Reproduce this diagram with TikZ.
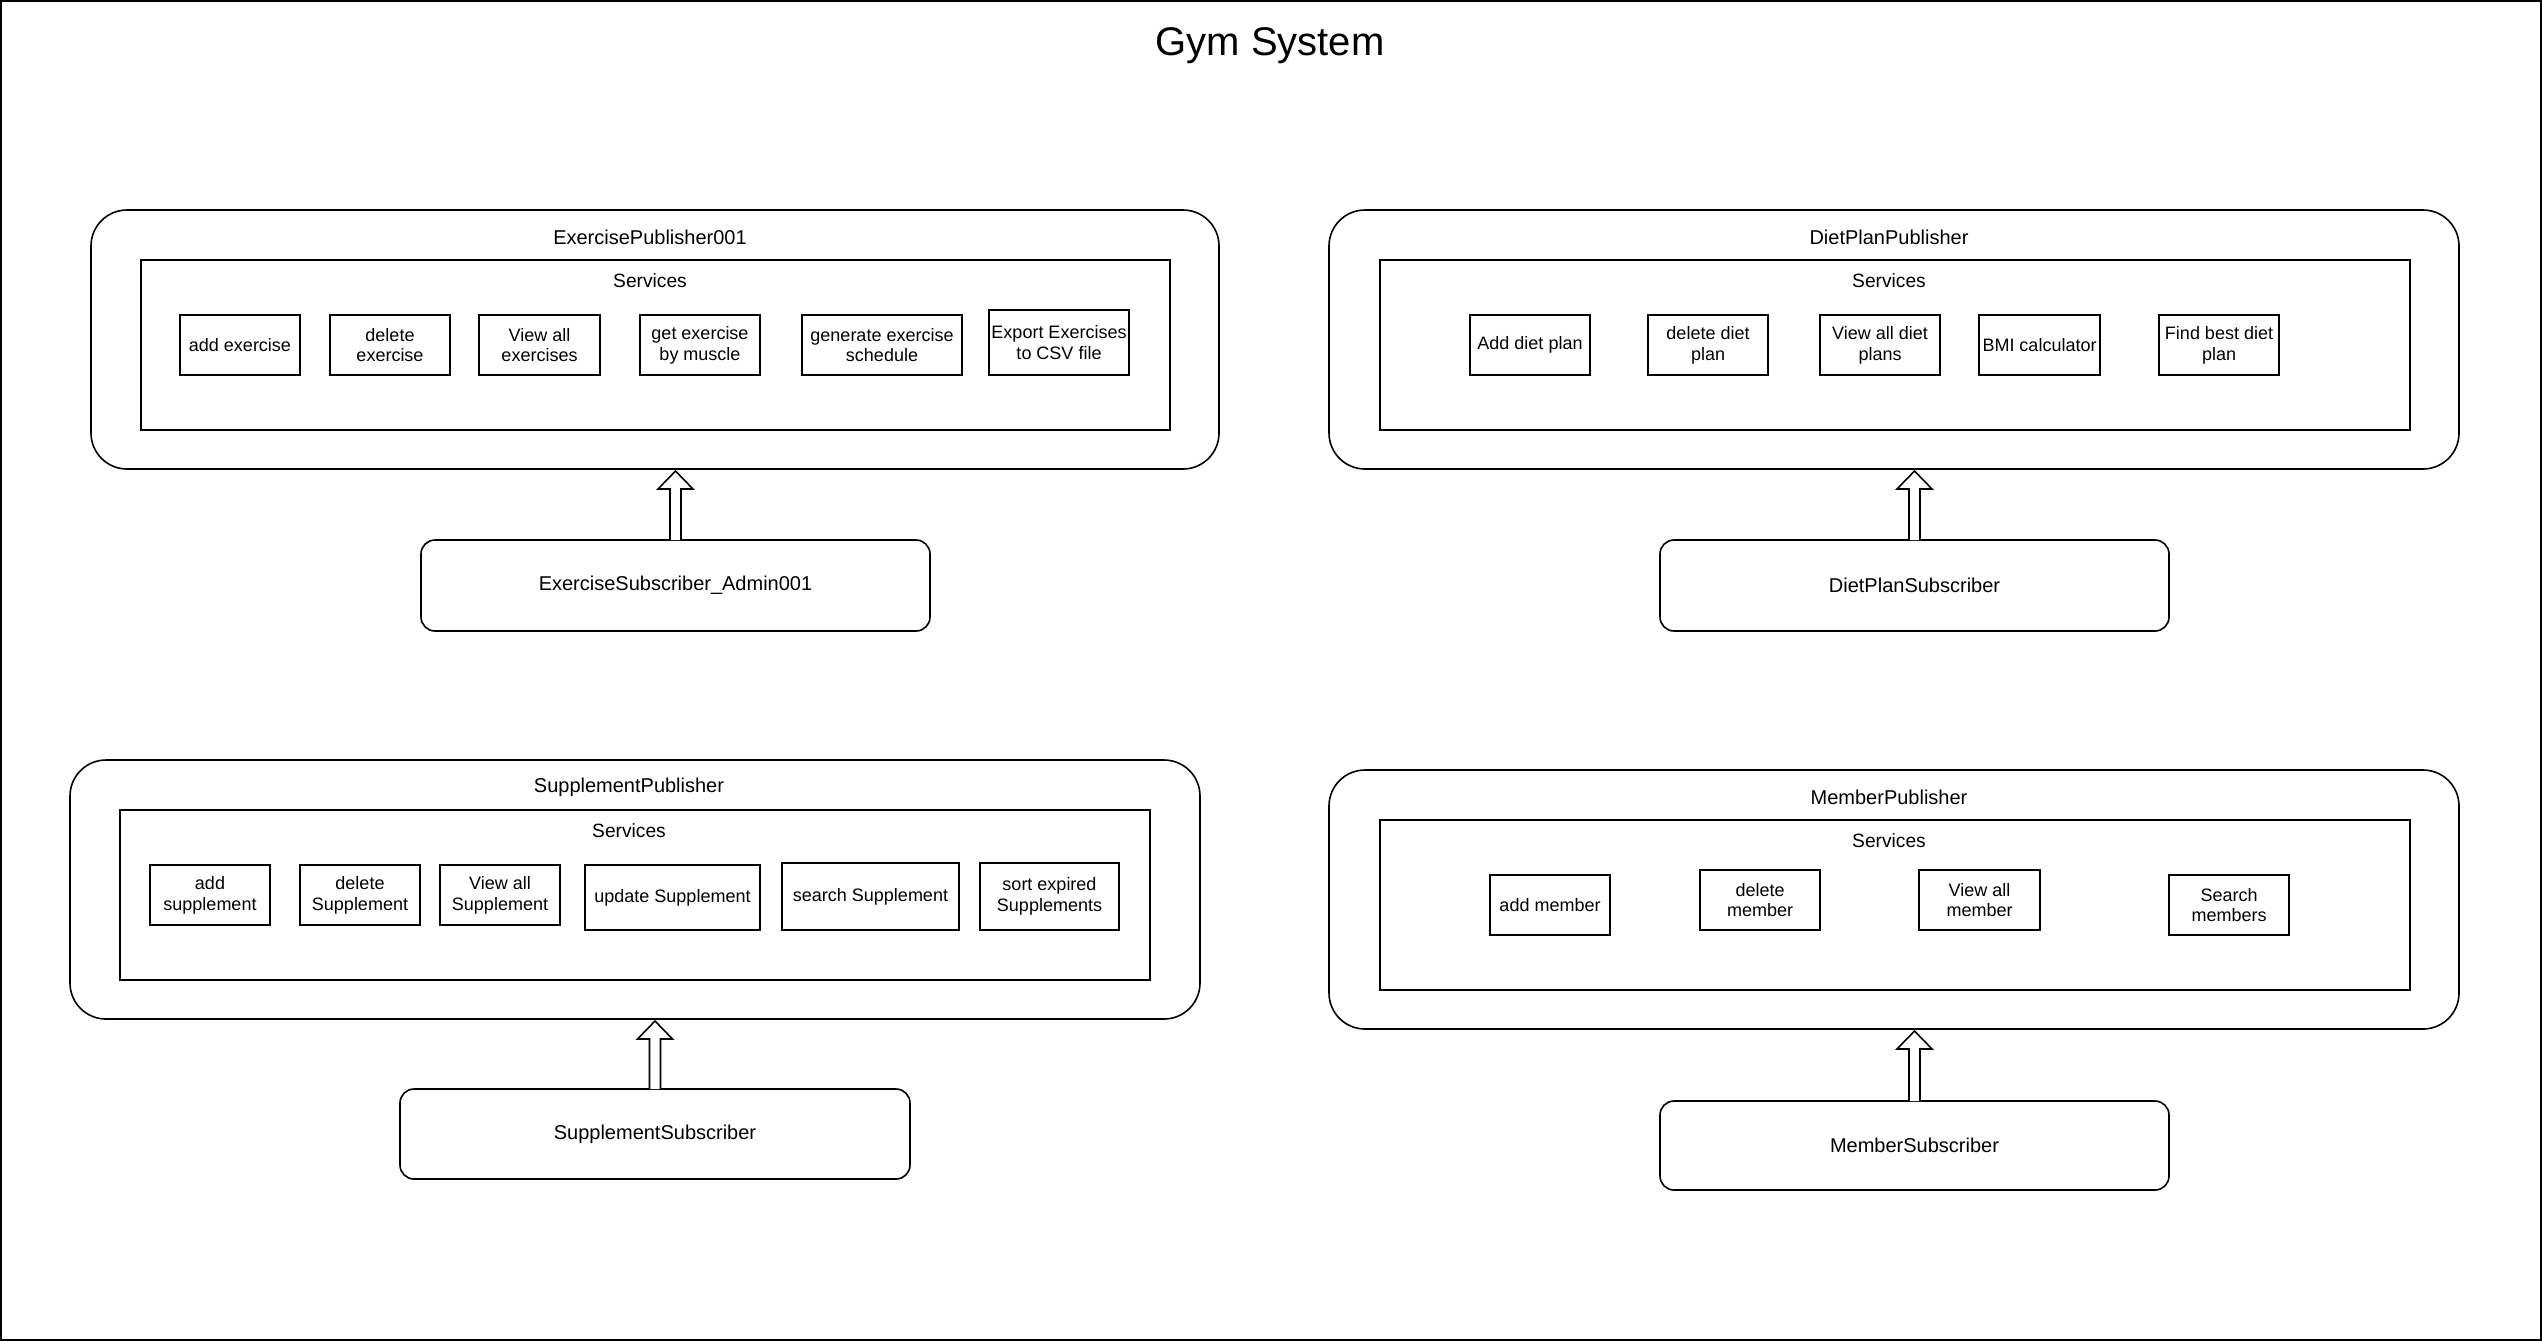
\documentclass[tikz,border=0pt]{standalone}
\usepackage{fontspec}
\setmainfont{Liberation Sans}
\usetikzlibrary{calc}
\tikzset{
 pub/.style={draw, line width=0.8pt, rounded corners=18pt, outer sep=0pt, inner sep=0pt},
 innerbox/.style={draw, line width=0.8pt, outer sep=0pt, inner sep=0pt},
 svc/.style={draw, line width=0.8pt, outer sep=0pt, inner sep=0pt, align=center, font=\fontsize{9}{10.4}\selectfont},
 subbox/.style={draw, line width=0.8pt, rounded corners=7pt, outer sep=0pt, inner sep=0pt, font=\fontsize{10}{12}\selectfont},
 lbl/.style={inner sep=0pt, font=\fontsize{9.6}{11}\selectfont},
 pubtitle/.style={inner sep=0pt, font=\fontsize{10}{12}\selectfont},
 blk/.style={draw, line width=0.8pt, fill=white, line join=miter},
}
\newcommand\bx[7][svc]{\node[#1, minimum width={(#5-#3)*0.5pt}, minimum height={(#6-#4)*0.5pt}] (#2) at ({(#3+#5)/2},{(#4+#6)/2}) {#7};}
\newcommand\harrow[2]{%
 \coordinate (#2tip) at (#2.north |- #1.south);
 \draw[blk] ($(#2.north)+(-5.5,0)$) -- ($(#2tip)+(-5.5,20)$) -- ($(#2tip)+(-17.5,20)$) -- ($(#2tip)+(0,2)$) -- ($(#2tip)+(17.5,20)$) -- ($(#2tip)+(5.5,20)$) -- ($(#2.north)+(5.5,0)$);
}
\begin{document}
\begin{tikzpicture}[x=0.5pt,y=-0.5pt]
\useasboundingbox (0,0) rectangle (2542,1341);
\draw[line width=1pt] (1.2,1.2) rectangle (2540.8,1339.8);
\node[inner sep=0pt, font=\fontsize{20}{24}\selectfont] (title) at (1270,46) {Gym System};

% Exercise publisher
\bx[pub]{ep}{91}{210}{1219}{469}{}
\node[pubtitle] (eptitle) at (650,237) {ExercisePublisher001};
\bx[innerbox]{epin}{141}{260}{1170}{430}{}
\node[lbl] (epserv) at (650,281) {Services};
\bx{e1}{180}{315}{300}{375}{add exercise}
\bx{e2}{330}{315}{450}{375}{delete\\exercise}
\bx{e3}{479}{315}{600}{375}{View all\\exercises}
\bx{e4}{640}{315}{760}{375}{get exercise\\by muscle}
\bx{e5}{802}{315}{962}{375}{generate exercise\\schedule}
\bx{e6}{989}{310}{1129}{375}{Export Exercises\\to CSV file}
\bx[subbox]{es}{421}{540}{930}{631}{ExerciseSubscriber\_Admin001}
\harrow{ep}{es}

% Diet plan publisher
\bx[pub]{dp}{1329}{210}{2459}{469}{}
\node[pubtitle] (dptitle) at (1889,237) {DietPlanPublisher};
\bx[innerbox]{dpin}{1380}{260}{2410}{430}{}
\node[lbl] (dpserv) at (1889,281) {Services};
\bx{d1}{1470}{315}{1590}{375}{Add diet plan}
\bx{d2}{1648}{315}{1768}{375}{delete diet\\plan}
\bx{d3}{1820}{315}{1940}{375}{View all diet\\plans}
\bx{d4}{1979}{315}{2100}{375}{BMI calculator}
\bx{d5}{2159}{315}{2279}{375}{Find best diet\\plan}
\bx[subbox]{ds}{1660}{540}{2169}{631}{DietPlanSubscriber}
\harrow{dp}{ds}

% Supplement publisher
\bx[pub]{sp}{70}{760}{1200}{1019}{}
\node[pubtitle] (sptitle) at (629,787) {SupplementPublisher};
\bx[innerbox]{spin}{120}{810}{1150}{980}{}
\node[lbl] (spserv) at (629,831) {Services};
\bx{s1}{150}{865}{270}{925}{add\\supplement}
\bx{s2}{300}{865}{420}{925}{delete\\Supplement}
\bx{s3}{440}{865}{560}{925}{View all\\Supplement}
\bx{s4}{585}{865}{760}{930}{update Supplement}
\bx{s5}{782}{863}{959}{930}{search Supplement}
\bx{s6}{980}{863}{1119}{930}{sort expired\\Supplements}
\bx[subbox]{ss}{400}{1089}{910}{1179}{SupplementSubscriber}
\harrow{sp}{ss}

% Member publisher
\bx[pub]{mp}{1329}{770}{2459}{1029}{}
\node[pubtitle] (mptitle) at (1889,797) {MemberPublisher};
\bx[innerbox]{mpin}{1380}{820}{2410}{990}{}
\node[lbl] (mpserv) at (1889,841) {Services};
\bx{m1}{1490}{875}{1610}{935}{add member}
\bx{m2}{1700}{870}{1820}{930}{delete\\member}
\bx{m3}{1919}{870}{2040}{930}{View all\\member}
\bx{m4}{2169}{875}{2289}{935}{Search\\members}
\bx[subbox]{ms}{1660}{1101}{2169}{1190}{MemberSubscriber}
\harrow{mp}{ms}
\end{tikzpicture}
\end{document}
